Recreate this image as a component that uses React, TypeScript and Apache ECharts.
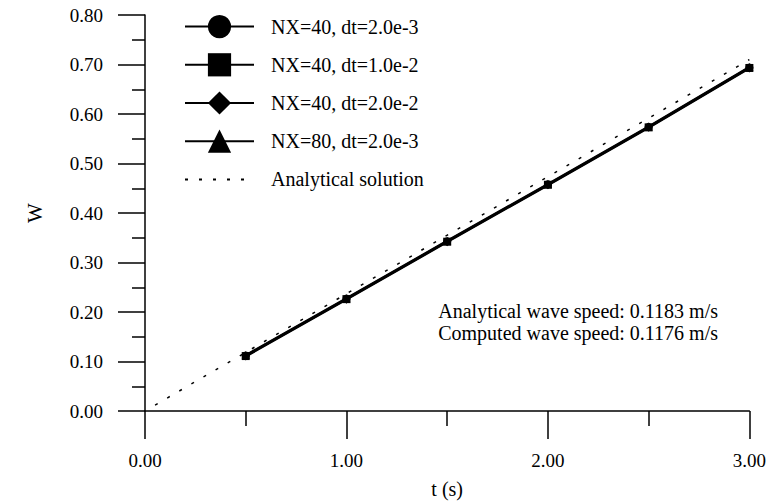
import React, { useEffect, useRef } from "react";
import * as echarts from "echarts";

const FONT = "'Liberation Serif', 'Times New Roman', serif";

const timeValues = [0.5, 1.0, 1.5, 2.0, 2.5, 3.0];
const wNx40Dt2e3 = [0.112, 0.227, 0.343, 0.458, 0.574, 0.694];
const wNx40Dt1e2 = [0.111, 0.226, 0.342, 0.457, 0.573, 0.693];
const wNx40Dt2e2 = [0.110, 0.225, 0.341, 0.456, 0.572, 0.692];
const wNx80Dt2e3 = [0.113, 0.228, 0.344, 0.459, 0.575, 0.695];
const analyticalT = [0.05, 3.0];
const analyticalW = [0.012, 0.71];

const seriesNames = [
  "NX=40, dt=2.0e-3",
  "NX=40, dt=1.0e-2",
  "NX=40, dt=2.0e-2",
  "NX=80, dt=2.0e-3",
];
const seriesSymbols = ["circle", "rect", "diamond", "triangle"];
const seriesValues = [wNx40Dt2e3, wNx40Dt1e2, wNx40Dt2e2, wNx80Dt2e3];
const analyticalName = "Analytical solution";
const annotationLines = [
  "Analytical wave speed: 0.1183 m/s",
  "Computed wave speed: 0.1176 m/s",
];

export default function App() {
  const ref = useRef<HTMLDivElement>(null);
  useEffect(() => {
    if (!ref.current) return;
    const chart = echarts.init(ref.current, null, { renderer: "svg" });
    const zip = (xs: number[], ys: number[]) => xs.map((x, i) => [x, ys[i]]);
    const option: any = {
      animation: false,
      backgroundColor: "#ffffff",
      textStyle: { fontFamily: FONT, color: "#000" },
      grid: { left: 145, top: 15, right: 17, bottom: 90, containLabel: false },
      legend: {
        orient: "vertical",
        left: 179,
        top: 10,
        itemWidth: 69,
        itemHeight: 29,
        itemGap: 15,
        textStyle: { fontFamily: FONT, fontSize: 20, color: "#000", padding: [0, 0, 0, 12] },
        data: [
          ...seriesNames.map((n) => ({ name: n })),
          { name: analyticalName, itemStyle: { opacity: 0 } },
        ],
      },
      xAxis: {
        type: "value",
        min: 0,
        max: 3,
        interval: 1,
        name: "t (s)",
        nameLocation: "middle",
        nameGap: 68,
        nameTextStyle: { fontFamily: FONT, fontSize: 20, color: "#000" },
        axisLine: { show: true, onZero: false, lineStyle: { color: "#000", width: 1.5 } },
        axisTick: { show: true, inside: false, length: 28, lineStyle: { color: "#000", width: 1.5 } },
        minorTick: { show: true, splitNumber: 2, length: 15, lineStyle: { color: "#000", width: 1.5 } },
        splitLine: { show: false },
        axisLabel: {
          margin: 40,
          fontFamily: FONT,
          fontSize: 19,
          color: "#000",
          formatter: (v: number) => v.toFixed(2),
        },
      },
      yAxis: {
        type: "value",
        min: 0,
        max: 0.8,
        interval: 0.1,
        name: "W",
        nameLocation: "middle",
        nameGap: 100,
        nameRotate: 90,
        nameTextStyle: { fontFamily: FONT, fontSize: 21, color: "#000" },
        axisLine: { show: true, onZero: false, lineStyle: { color: "#000", width: 1.5 } },
        axisTick: { show: true, inside: false, length: 27, lineStyle: { color: "#000", width: 1.5 } },
        minorTick: { show: true, splitNumber: 2, length: 13, lineStyle: { color: "#000", width: 1.5 } },
        splitLine: { show: false },
        axisLabel: {
          margin: 42,
          fontFamily: FONT,
          fontSize: 19,
          color: "#000",
          formatter: (v: number) => v.toFixed(2),
        },
      },
      series: [
        ...seriesNames.map((n, i) => ({
          name: n,
          type: "line",
          data: zip(timeValues, seriesValues[i]),
          symbol: seriesSymbols[i],
          symbolSize: 8,
          showSymbol: true,
          itemStyle: { color: "#000" },
          lineStyle: { color: "#000", width: 2 },
          z: 3,
        })),
        {
          name: analyticalName,
          type: "line",
          data: zip(analyticalT, analyticalW),
          symbol: "circle",
          showSymbol: false,
          itemStyle: { color: "#000" },
          lineStyle: { color: "#000", width: 1.5, type: [3, 11] },
          z: 2,
        },
      ],
      graphic: annotationLines.map((t, i) => ({
        type: "text",
        right: 769 - 718,
        top: 301 + i * 22,
        style: {
          text: t,
          fontFamily: FONT,
          fontSize: 20,
          fill: "#000",
        },
      })),
    };
    chart.setOption(option);
    return () => chart.dispose();
  }, []);
  return (
    <div
      ref={ref}
      style={{ position: "fixed", left: 0, top: 0, width: 769, height: 504, background: "#fff" }}
    />
  );
}
